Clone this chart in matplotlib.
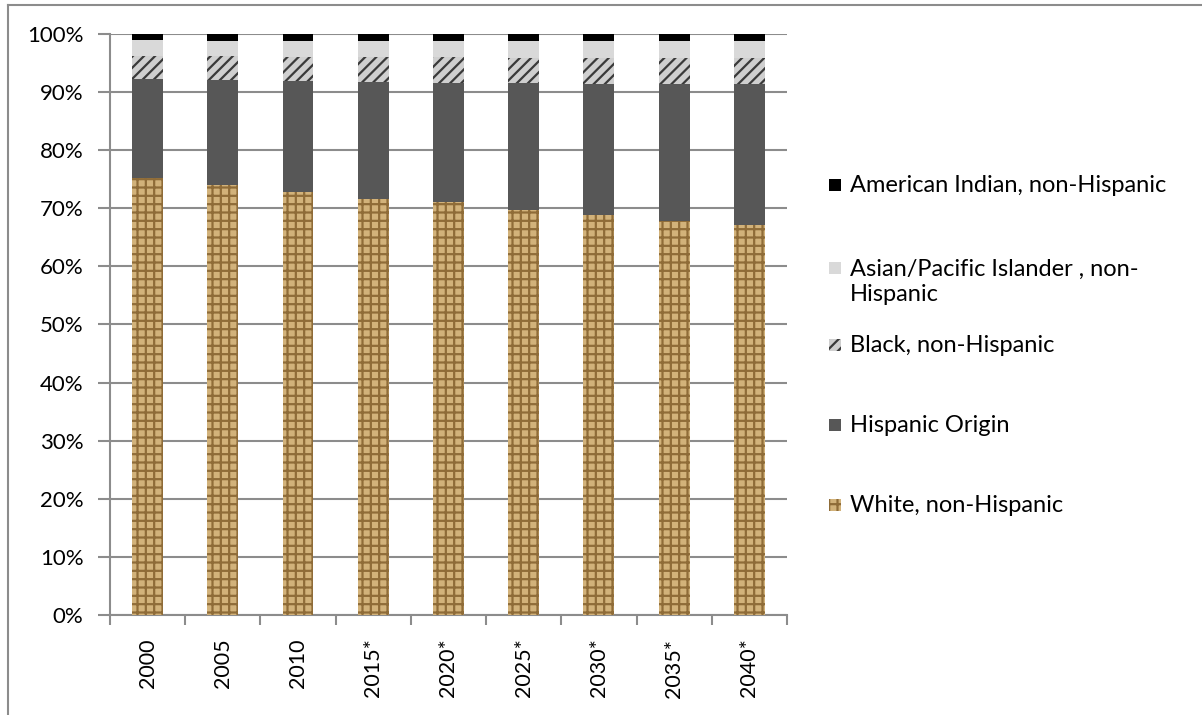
import matplotlib.pyplot as plt
from matplotlib.lines import Line2D
from matplotlib.patches import Rectangle
import numpy as np

plt.rcParams['font.family'] = ['Lato', 'DejaVu Sans']
plt.rcParams['hatch.linewidth'] = 1.6

years = ['2000', '2005', '2010', '2015*', '2020*', '2025*', '2030*', '2035*', '2040*']

# shares of population, percent
white = [75.2, 74.0, 72.8, 71.6, 71.0, 69.7, 68.8, 67.8, 67.1]
hispanic = [17.0, 18.0, 19.1, 20.1, 20.6, 21.8, 22.6, 23.6, 24.3]
black = [4.0, 4.2, 4.2, 4.4, 4.4, 4.4, 4.5, 4.5, 4.5]
asian = [2.8, 2.6, 2.7, 2.7, 2.8, 2.9, 2.9, 2.9, 2.9]
amind = [1.0, 1.2, 1.2, 1.2, 1.2, 1.2, 1.2, 1.2, 1.2]

labels = ['White, non-Hispanic', 'Hispanic Origin', 'Black, non-Hispanic',
          'Asian/Pacific Islander , non-\nHispanic', 'American Indian, non-Hispanic']

styles = [
    dict(facecolor='#d2b27a', edgecolor='#8f6c38', hatch='++'),
    dict(facecolor='#575757', edgecolor='#575757', hatch=None),
    dict(facecolor='#cfcfcf', edgecolor='#3a3a3a', hatch='///'),
    dict(facecolor='#d9d9d9', edgecolor='#d9d9d9', hatch=None),
    dict(facecolor='#000000', edgecolor='#000000', hatch=None),
]

series = [white, hispanic, black, asian, amind]
data = np.array(series)
data = data / data.sum(axis=0) * 100

fig = plt.figure(figsize=(12.02, 7.15), dpi=100)
ax = fig.add_axes([0.0915, 0.1399, 0.5632, 0.8126])

x = np.arange(len(years))
bottom = np.zeros(len(years))
for vals, st in zip(data, styles):
    ax.bar(x, vals, width=0.41, bottom=bottom, linewidth=0, zorder=3, **st)
    bottom += vals

ax.set_xlim(-0.5, len(years) - 0.5)
ax.set_ylim(0, 100)
ax.set_yticks(np.arange(0, 101, 10))
ax.set_yticklabels([f'{v}%' for v in range(0, 101, 10)], fontsize=16)
ax.yaxis.grid(True, color='#8c8c8c', linewidth=1.5, zorder=0)
ax.set_axisbelow(True)

ax.set_xticks(x)
ax.set_xticklabels(years, rotation=90, fontsize=15.5, va='top', ha='center')
ax.set_xticks(np.arange(-0.5, len(years), 1), minor=True)
ax.tick_params(axis='x', which='major', length=0, pad=17)
ax.tick_params(axis='x', which='minor', length=7, width=1.5, color='#8c8c8c')
ax.tick_params(axis='y', length=9, width=1.5, color='#8c8c8c', pad=10)

for s in ['top', 'right']:
    ax.spines[s].set_visible(False)
for s in ['left', 'bottom']:
    ax.spines[s].set_color('#8c8c8c')
    ax.spines[s].set_linewidth(1.5)

# legend, drawn by hand to match the spreadsheet layout
W, H = 1202.0, 715.0
marker_y = [505, 425, 345, 268, 185]
text_y = [505, 425, 345, 282, 185]
for lab, st, my, ty in zip(labels, styles, marker_y, text_y):
    fig.add_artist(Rectangle((829 / W, 1 - (my + 6) / H), 12 / W, 12 / H,
                             transform=fig.transFigure, linewidth=0, **st))
    fig.text(850 / W, 1 - ty / H, lab, fontsize=17, va='center', ha='left',
             linespacing=1.2)

# outer frame
fig.add_artist(Line2D([8 / W, 1], [1 - 5 / H, 1 - 5 / H], color='#8c8c8c', linewidth=1.5))
fig.add_artist(Line2D([8 / W, 8 / W], [1 - 5 / H, 0], color='#8c8c8c', linewidth=1.5))

plt.savefig('out.png', dpi=100)
plt.close()
